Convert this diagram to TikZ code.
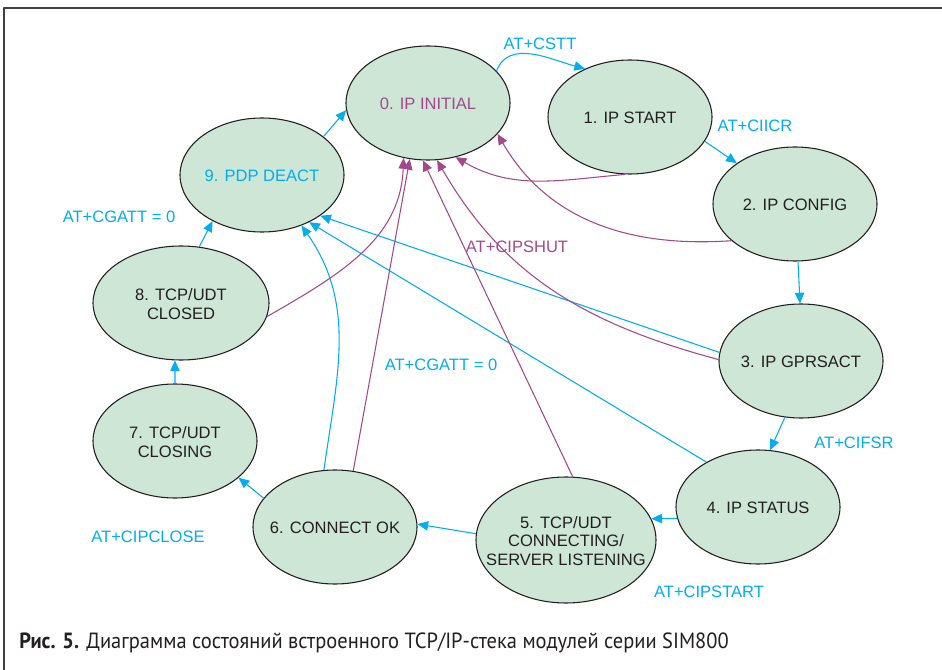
\documentclass[tikz,border=0pt]{standalone}
\usepackage{fontspec}
\setmainfont{Liberation Sans}
\newfontfamily\capfont[FakeStretch=0.93]{PT Sans}
\usetikzlibrary{shapes.geometric,arrows.meta}
\definecolor{stfill}{RGB}{205,230,213}
\definecolor{atcyan}{RGB}{0,174,239}
\definecolor{atpurp}{RGB}{163,73,139}
\definecolor{stline}{RGB}{35,31,32}
\newcommand{\sttext}[1]{\makebox[0pt]{\smash{\raisebox{-5.3pt}{\begin{tabular}{@{}c@{}}#1\end{tabular}}}}}
\begin{document}
\begin{tikzpicture}[x=0.75pt, y=-0.75pt, font=\fontsize{12.4}{14}\selectfont, line join=round, >={Triangle[length=8pt,width=7pt]},
    st/.style={ellipse, draw=stline, fill=stfill, line width=0.8pt, minimum width=123pt, minimum height=85.5pt, inner sep=0pt, text=stline},
    lab/.style={inner sep=0pt, text=atcyan},
    cy/.style={->, atcyan, line width=0.8pt},
    pu/.style={->, atpurp, line width=0.8pt}]
    \useasboundingbox (0,0) rectangle (942,670);
    \draw[line width=1.5pt, black!75] (4,670)--(4,8)--(942,8);
    \node[st, text=atpurp] (s0) at (428,103) {\sttext{0. IP INITIAL}};
    \node[st] (s1) at (630,117) {\sttext{1. IP START}};
    \node[st] (s2) at (795,204) {\sttext{2. IP CONFIG}};
    \node[st] (s3) at (801,361) {\sttext{3. IP GPRSACT}};
    \node[st] (s4) at (758,507) {\sttext{4. IP STATUS}};
    \node[st, minimum width=135pt, minimum height=94.5pt] (s5) at (566,540) {\sttext{5. TCP/UDT\\CONNECTING/\\SERVER LISTENING}};
    \node[st] (s6) at (335,527) {\sttext{6. CONNECT OK}};
    \node[st] (s7) at (175,441) {\sttext{7. TCP/UDT\\CLOSING}};
    \node[st, minimum width=132pt] (s8) at (181,303) {\sttext{8. TCP/UDT\\CLOSED}};
    \node[st, text=atcyan] (s9) at (262,175) {\sttext{9. PDP DEACT}};
    \node[lab] (cstt) at (540,44) {AT+CSTT};
    \node[lab] (ciicr) at (755,126) {AT+CIICR};
    \node[lab, text=atpurp] (cipshut) at (517,247) {AT+CIPSHUT};
    \node[lab] (cgatta) at (119,217) {AT+CGATT = 0};
    \node[lab] (cgattb) at (441,365) {AT+CGATT = 0};
    \node[lab] (cifsr) at (854,443) {AT+CIFSR};
    \node[lab] (cipstart) at (709,592) {AT+CIPSTART};
    \node[lab] (cipclose) at (148,537) {AT+CIPCLOSE};
    \draw[cy] (s0.25) to[out=70,in=165] (s1.133);
    \draw[cy] (s1.-18)--(s2.145);
    \draw[cy] (s2.-87)--(s3.91);
    \draw[cy] (s3.-106)--(s4.78);
    \draw[cy] (s4.188)--(s5.14);
    \draw[cy] (s5.176)--(s6.2);
    \draw[cy] (s6.158)--(s7.-30);
    \draw[cy] (s7.90)--(s8.-96);
    \draw[cy] (s8.72)--(s9.-137);
    \draw[cy] (s9.32)--(s0.185);
    \draw[cy] (s6.101) to[out=82,in=-55] (s9.-52);
    \draw[cy] (s3.174)--(s9.-35);
    \draw[cy] (s4.139)--(s9.-45);
    \draw[pu] (s1.-95) to[out=185,in=-30] (s0.-63);
    \draw[pu] (s2.-150) to[out=184,in=-60] (s0.-24);
    \draw[pu] (s3.179) to[out=165,in=-60] (s0.-81);
    \draw[pu] (s5.84)--(s0.-95);
    \draw[pu] (s6.72)--(s0.-108);
    \draw[pu] (s8.-9) to[out=30,in=-92] (s0.-114);
    \node[anchor=west, inner sep=0pt, text=stline, font=\capfont\fontsize{16.5}{19}\selectfont] (cap) at (19,643) {\textbf{Рис. 5.} Диаграмма состояний встроенного TCP/IP-стека модулей серии SIM800};
\end{tikzpicture}
\end{document}
